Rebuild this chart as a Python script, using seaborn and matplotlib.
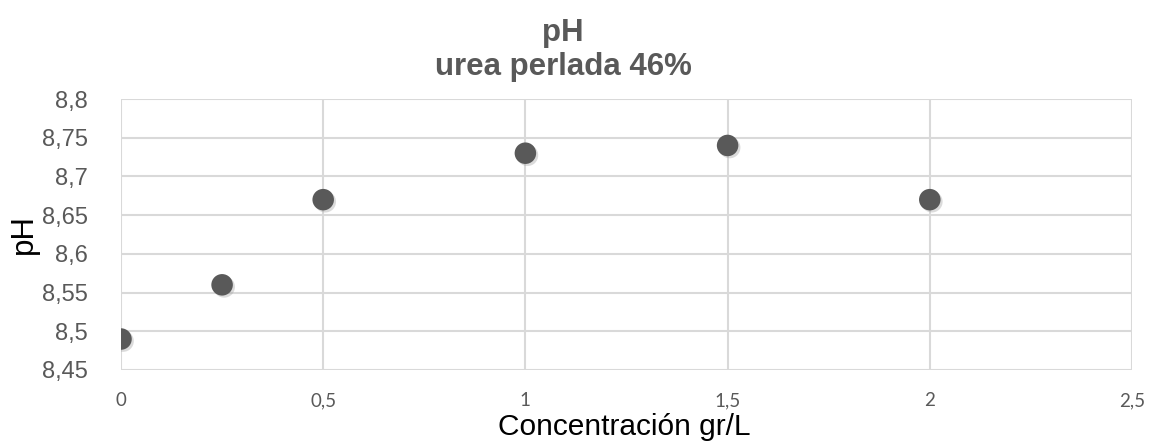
import pandas as pd
import seaborn as sns
import matplotlib.pyplot as plt
import matplotlib.patheffects as pe
from matplotlib.ticker import FuncFormatter, MultipleLocator

concentracion = [0, 0.25, 0.5, 1, 1.5, 2]
ph_values = [8.49, 8.56, 8.67, 8.73, 8.74, 8.67]

data = pd.DataFrame({"conc": concentracion, "ph": ph_values})

sns.set_theme(style="white")
plt.rcParams["font.family"] = ["Liberation Sans", "DejaVu Sans"]

fig = plt.figure(figsize=(11.49, 4.41), dpi=100)
ax = fig.add_axes([0.1053, 0.161, 0.8799, 0.6145])

grid_color = "#d9d9d9"
text_gray = "#595959"

sc = sns.scatterplot(data=data, x="conc", y="ph", ax=ax, s=240,
                     color="#595959", edgecolor="none", zorder=3)
sc.collections[0].set_path_effects([
    pe.SimplePatchShadow(offset=(1.5, -1.5), shadow_rgbFace="#9a9a9a", alpha=0.35),
    pe.Normal(),
])

ax.set_xlim(0, 2.5)
ax.set_ylim(8.45, 8.8)
ax.xaxis.set_major_locator(MultipleLocator(0.5))
ax.yaxis.set_major_locator(MultipleLocator(0.05))

comma = FuncFormatter(lambda v, _: ("%g" % round(v, 4)).replace(".", ","))
ax.xaxis.set_major_formatter(comma)
ax.yaxis.set_major_formatter(comma)

ax.grid(True, color=grid_color, linewidth=1.5)
ax.set_axisbelow(True)
for side in ax.spines.values():
    side.set_visible(False)

ax.tick_params(axis="both", length=0)
ax.tick_params(axis="y", labelsize=17, labelcolor=text_gray, pad=24)
ax.tick_params(axis="x", labelsize=13.5, labelcolor=text_gray, pad=16)
for lbl in ax.get_xticklabels():
    lbl.set_family(["Lato", "DejaVu Sans"])

ax.set_xlabel("Concentración gr/L", fontsize=21.5, color="black")
ax.xaxis.label.set_va("center")
ax.xaxis.set_label_coords(0.498, -0.21)
ax.set_ylabel("pH", fontsize=22.5, color="black")
ax.yaxis.label.set_va("center")
ax.yaxis.set_label_coords(-0.096, 0.5)

fig.text(0.49, 0.925, "pH", ha="center", va="center", fontsize=22.5,
         fontweight="bold", color=text_gray)
fig.text(0.49, 0.848, "urea perlada 46%", ha="center", va="center",
         fontsize=22.5, fontweight="bold", color=text_gray)

plt.savefig("out.png", dpi=100)
